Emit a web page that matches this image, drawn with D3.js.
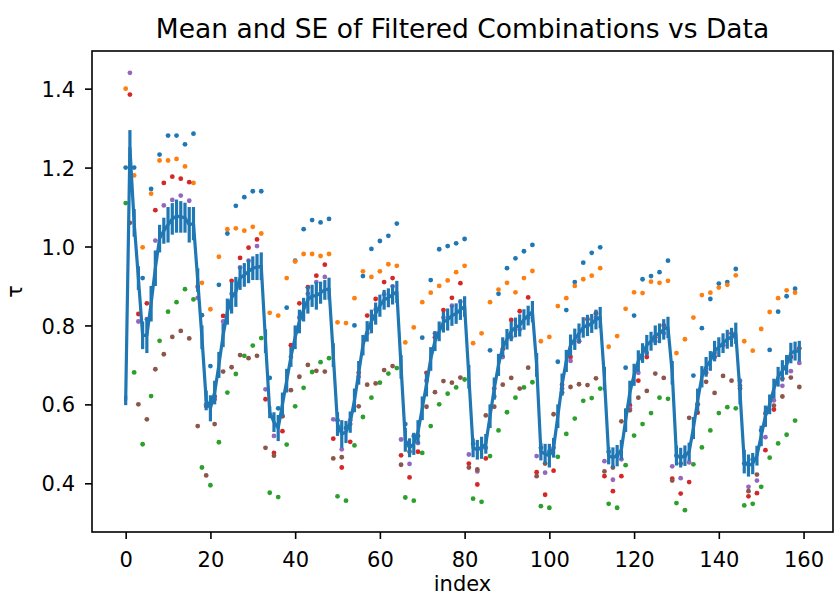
<!DOCTYPE html>
<html>
<head>
<meta charset="utf-8">
<script src="https://cdn.jsdelivr.net/npm/d3@7"></script>
<style>
  body { margin: 0; background: #fff; }
  svg { display: block; }
  text { font-family: "DejaVu Sans", sans-serif; fill: #000; }
</style>
</head>
<body>
<svg id="chart" width="835" height="597"></svg>
<script>
// Mean of the filtered combinations at every index 0..159
const meanTau = [
  0.61, 1.25, 1.06, 0.92, 0.775, 0.775, 0.855, 0.945, 1.02, 1.04, 1.055, 1.07, 1.077, 1.075, 1.073, 1.055,
  1.058, 0.915, 0.77, 0.61, 0.59, 0.63, 0.70, 0.775, 0.835, 0.87, 0.885, 0.92, 0.928, 0.937, 0.945, 0.948,
  0.95, 0.76, 0.58, 0.555, 0.54, 0.60, 0.66, 0.72, 0.77, 0.81, 0.84, 0.865, 0.875, 0.875, 0.883, 0.89,
  0.893, 0.725, 0.55, 0.525, 0.53, 0.555, 0.61, 0.68, 0.75, 0.785, 0.81, 0.83, 0.85, 0.865, 0.87, 0.878,
  0.885, 0.695, 0.51, 0.49, 0.50, 0.53, 0.59, 0.65, 0.715, 0.76, 0.785, 0.808, 0.815, 0.825, 0.83, 0.84,
  0.848, 0.67, 0.49, 0.485, 0.49, 0.50, 0.57, 0.64, 0.70, 0.745, 0.765, 0.785, 0.795, 0.80, 0.815, 0.825,
  0.835, 0.70, 0.48, 0.475, 0.47, 0.49, 0.57, 0.65, 0.71, 0.75, 0.765, 0.78, 0.795, 0.80, 0.805, 0.815,
  0.82, 0.665, 0.47, 0.465, 0.47, 0.485, 0.56, 0.63, 0.675, 0.71, 0.73, 0.75, 0.76, 0.775, 0.78, 0.79,
  0.795, 0.68, 0.47, 0.465, 0.47, 0.48, 0.54, 0.61, 0.67, 0.695, 0.71, 0.735, 0.745, 0.755, 0.765, 0.77,
  0.78, 0.63, 0.455, 0.445, 0.45, 0.47, 0.52, 0.57, 0.60, 0.64, 0.67, 0.685, 0.70, 0.73, 0.735, 0.735
];

// Standard error of the mean at every index
const seTau = [
  0.012, 0.045, 0.035, 0.030, 0.035, 0.045, 0.045, 0.045, 0.035, 0.033, 0.045, 0.040, 0.042, 0.040, 0.038, 0.045,
  0.042, 0.030, 0.030, 0.025, 0.033, 0.030, 0.033, 0.030, 0.033, 0.040, 0.038, 0.030, 0.030, 0.030, 0.030, 0.033,
  0.035, 0.030, 0.015, 0.025, 0.033, 0.030, 0.030, 0.025, 0.030, 0.030, 0.030, 0.035, 0.028, 0.035, 0.028, 0.025,
  0.028, 0.030, 0.030, 0.035, 0.028, 0.027, 0.030, 0.030, 0.026, 0.026, 0.030, 0.028, 0.028, 0.025, 0.024, 0.025,
  0.028, 0.030, 0.030, 0.024, 0.028, 0.030, 0.030, 0.030, 0.030, 0.025, 0.025, 0.026, 0.028, 0.026, 0.026, 0.026,
  0.026, 0.030, 0.024, 0.025, 0.028, 0.025, 0.030, 0.028, 0.028, 0.025, 0.026, 0.025, 0.025, 0.028, 0.026, 0.025,
  0.027, 0.030, 0.022, 0.025, 0.030, 0.025, 0.030, 0.028, 0.028, 0.027, 0.027, 0.025, 0.026, 0.027, 0.024, 0.025,
  0.027, 0.030, 0.022, 0.026, 0.027, 0.025, 0.030, 0.030, 0.028, 0.027, 0.025, 0.026, 0.024, 0.025, 0.025, 0.026,
  0.027, 0.030, 0.025, 0.025, 0.026, 0.023, 0.028, 0.030, 0.027, 0.025, 0.025, 0.026, 0.025, 0.025, 0.024, 0.024,
  0.027, 0.030, 0.030, 0.028, 0.027, 0.025, 0.026, 0.027, 0.025, 0.025, 0.025, 0.027, 0.025, 0.026, 0.024, 0.026
];

// Observed data, series A/B/C at even indices 0,2,...,158
const dataA = [
  1.20, 1.20, 0.92, 1.146, 1.233, 1.281, 1.281, 1.259,
  1.286, 0.826, 0.697, 0.903, 1.033, 1.103, 1.125, 1.14,
  1.14, 0.667, 0.59, 0.845, 0.964, 1.044, 1.067, 1.061,
  1.07, 0.56, 0.54, 0.80, 0.925, 0.994, 1.014, 1.027,
  1.058, 0.55, 0.52, 0.769, 0.915, 0.993, 1.001, 1.008,
  1.019, 0.50, 0.49, 0.737, 0.88, 0.945, 0.97, 0.988,
  1.004, 0.49, 0.48, 0.708, 0.839, 0.91, 0.959, 0.984,
  0.998, 0.48, 0.47, 0.693, 0.825, 0.917, 0.925, 0.935,
  0.964, 0.47, 0.47, 0.673, 0.793, 0.867, 0.906, 0.91,
  0.943, 0.45, 0.46, 0.534, 0.738, 0.835, 0.874, 0.893
];
const dataB = [
  1.40, 1.18, 0.998, 1.134, 1.218, 1.218, 1.222, 1.203,
  1.161, 0.908, 0.841, 0.974, 1.044, 1.046, 1.04, 1.05,
  1.033, 0.832, 0.825, 0.92, 0.962, 0.981, 0.981, 0.976,
  0.981, 0.808, 0.806, 0.869, 0.937, 0.923, 0.937, 0.955,
  0.951, 0.757, 0.795, 0.859, 0.883, 0.90, 0.914, 0.935,
  0.951, 0.755, 0.78, 0.859, 0.891, 0.908, 0.884, 0.92,
  0.938, 0.76, 0.771, 0.849, 0.869, 0.90, 0.917, 0.926,
  0.945, 0.746, 0.773, 0.842, 0.884, 0.882, 0.911, 0.908,
  0.913, 0.73, 0.765, 0.82, 0.877, 0.883, 0.896, 0.903,
  0.927, 0.76, 0.736, 0.791, 0.834, 0.869, 0.889, 0.883
];
const dataC = [
  1.11, 0.681, 0.499, 0.621, 0.761, 0.835, 0.859, 0.892,
  0.866, 0.44, 0.395, 0.504, 0.63, 0.677, 0.723, 0.749,
  0.768, 0.376, 0.365, 0.498, 0.595, 0.642, 0.682, 0.707,
  0.717, 0.367, 0.356, 0.496, 0.568, 0.617, 0.655, 0.678,
  0.692, 0.364, 0.356, 0.477, 0.545, 0.60, 0.627, 0.643,
  0.663, 0.361, 0.353, 0.469, 0.534, 0.58, 0.617, 0.643,
  0.656, 0.342, 0.338, 0.467, 0.525, 0.564, 0.609, 0.616,
  0.64, 0.348, 0.338, 0.446, 0.521, 0.55, 0.578, 0.617,
  0.614, 0.35, 0.332, 0.448, 0.491, 0.534, 0.578, 0.593,
  0.59, 0.344, 0.348, 0.391, 0.465, 0.501, 0.523, 0.559
];

// Observed data, series D/E/F at odd indices 1,3,...,159
const dataD = [
  1.385, 0.829, 0.856, 1.092, 1.161, 1.177, 1.172, 1.163,
  0.898, 0.596, 0.62, 0.824, 0.913, 0.971, 0.997, 1.018,
  0.613, 0.477, 0.532, 0.75, 0.856, 0.897, 0.926, 0.954,
  0.513, 0.44, 0.505, 0.68, 0.825, 0.867, 0.91, 0.92,
  0.471, 0.415, 0.48, 0.68, 0.77, 0.839, 0.87, 0.907,
  0.45, 0.397, 0.463, 0.64, 0.74, 0.814, 0.836, 0.871,
  0.428, 0.371, 0.432, 0.65, 0.72, 0.76, 0.816, 0.831,
  0.418, 0.38, 0.418, 0.598, 0.66, 0.72, 0.77, 0.80,
  0.412, 0.374, 0.403, 0.579, 0.68, 0.72, 0.75, 0.78,
  0.64, 0.367, 0.375, 0.484, 0.587, 0.665, 0.72, 0.742
];
const dataE = [
  1.44, 0.81, 0.816, 1.015, 1.104, 1.118, 1.129, 1.116,
  0.87, 0.60, 0.613, 0.81, 0.88, 0.947, 0.964, 1.001,
  0.638, 0.52, 0.57, 0.72, 0.82, 0.88, 0.91, 0.923,
  0.562, 0.486, 0.56, 0.67, 0.78, 0.84, 0.879, 0.899,
  0.511, 0.449, 0.502, 0.66, 0.78, 0.82, 0.85, 0.86,
  0.473, 0.43, 0.49, 0.62, 0.72, 0.77, 0.79, 0.82,
  0.469, 0.427, 0.49, 0.64, 0.71, 0.76, 0.80, 0.82,
  0.456, 0.409, 0.461, 0.59, 0.68, 0.73, 0.76, 0.78,
  0.443, 0.413, 0.453, 0.60, 0.69, 0.73, 0.75, 0.77,
  0.66, 0.391, 0.407, 0.517, 0.61, 0.647, 0.684, 0.705
];
const dataF = [
  1.06, 0.60, 0.562, 0.689, 0.727, 0.771, 0.786, 0.767,
  0.545, 0.42, 0.55, 0.683, 0.694, 0.725, 0.717, 0.723,
  0.49, 0.47, 0.57, 0.636, 0.67, 0.70, 0.685, 0.683,
  0.463, 0.466, 0.55, 0.595, 0.65, 0.653, 0.687, 0.697,
  0.447, 0.48, 0.52, 0.594, 0.631, 0.659, 0.655, 0.668,
  0.44, 0.435, 0.572, 0.594, 0.65, 0.667, 0.64, 0.693,
  0.418, 0.45, 0.575, 0.63, 0.644, 0.651, 0.649, 0.666,
  0.43, 0.44, 0.557, 0.585, 0.617, 0.634, 0.678, 0.667,
  0.407, 0.45, 0.566, 0.60, 0.657, 0.629, 0.672, 0.66,
  0.647, 0.38, 0.422, 0.577, 0.597, 0.62, 0.668, 0.644
];

const xTicks = [0, 20, 40, 60, 80, 100, 120, 140, 160];
const yTicks = [0.4, 0.6, 0.8, 1.0, 1.2, 1.4];

// Scatter groups: values plus the index they start at (every second index)
const scatterGroups = [
  { values: dataA, start: 0 },
  { values: dataB, start: 0 },
  { values: dataC, start: 0 },
  { values: dataD, start: 1 },
  { values: dataE, start: 1 },
  { values: dataF, start: 1 }
];
const palette = ["#1f77b4", "#ff7f0e", "#2ca02c", "#d62728", "#9467bd", "#8c564b"];
const lineColor = "#1f77b4";

const svg = d3.select("#chart");
const plot = { left: 92, right: 833, top: 51, bottom: 532 };

const points = scatterGroups.map((g, gi) =>
  g.values.map((v, k) => ({ i: g.start + 2 * k, v, c: palette[gi] }))
).flat();
const meanPts = meanTau.map((m, i) => ({ i, m, se: seTau[i] }));

// Autoscale with 5% margins, as the plotting library would
const xExt = [0, meanTau.length - 1];
const yAll = points.map(p => p.v)
  .concat(meanPts.map(p => p.m - p.se), meanPts.map(p => p.m + p.se));
const yExt = d3.extent(yAll);
const xPad = (xExt[1] - xExt[0]) * 0.05;
const yPad = (yExt[1] - yExt[0]) * 0.05;

const x = d3.scaleLinear().domain([xExt[0] - xPad, xExt[1] + xPad]).range([plot.left, plot.right]);
const y = d3.scaleLinear().domain([yExt[0] - yPad, yExt[1] + yPad]).range([plot.bottom, plot.top]);

// Clip marks to the axes box
svg.append("clipPath").attr("id", "plotClip")
  .append("rect")
  .attr("x", plot.left).attr("y", plot.top)
  .attr("width", plot.right - plot.left).attr("height", plot.bottom - plot.top);

const marks = svg.append("g").attr("clip-path", "url(#plotClip)");

// Data points
marks.append("g").selectAll("circle")
  .data(points)
  .join("circle")
  .attr("cx", d => x(d.i))
  .attr("cy", d => y(d.v))
  .attr("r", 2.4)
  .attr("fill", d => d.c);

// Error bars (mean ± SE)
marks.append("g").selectAll("line")
  .data(meanPts)
  .join("line")
  .attr("x1", d => x(d.i)).attr("x2", d => x(d.i))
  .attr("y1", d => y(d.m - d.se)).attr("y2", d => y(d.m + d.se))
  .attr("stroke", lineColor)
  .attr("stroke-width", 3.2);

// Mean line
marks.append("path")
  .datum(meanPts)
  .attr("fill", "none")
  .attr("stroke", lineColor)
  .attr("stroke-width", 3.2)
  .attr("stroke-linejoin", "round")
  .attr("d", d3.line().x(d => x(d.i)).y(d => y(d.m)));

// Axes
const xAxis = svg.append("g")
  .attr("transform", `translate(0,${plot.bottom})`)
  .call(d3.axisBottom(x).tickValues(xTicks).tickSize(7).tickPadding(13).tickFormat(d3.format("d")));
const yAxis = svg.append("g")
  .attr("transform", `translate(${plot.left},0)`)
  .call(d3.axisLeft(y).tickValues(yTicks).tickSize(7).tickPadding(10).tickFormat(d3.format(".1f")));

[xAxis, yAxis].forEach(a => {
  a.select(".domain").remove();
  a.selectAll(".tick line").attr("stroke", "#000").attr("stroke-width", 1.6);
  a.selectAll(".tick text")
    .attr("font-family", "DejaVu Sans, sans-serif")
    .attr("font-size", 21)
    .attr("fill", "#000");
});
yAxis.selectAll(".tick text").attr("dy", "0.36em");

// Axes frame
svg.append("rect")
  .attr("x", plot.left).attr("y", plot.top)
  .attr("width", plot.right - plot.left).attr("height", plot.bottom - plot.top)
  .attr("fill", "none").attr("stroke", "#000").attr("stroke-width", 1.6);

// Title and axis labels
svg.append("text")
  .attr("x", (plot.left + plot.right) / 2).attr("y", 38)
  .attr("text-anchor", "middle").attr("font-size", 26.5)
  .text("Mean and SE of Filtered Combinations vs Data");

svg.append("text")
  .attr("x", (plot.left + plot.right) / 2).attr("y", 591)
  .attr("text-anchor", "middle").attr("font-size", 21)
  .text("index");

svg.append("text")
  .attr("transform", `translate(22,${(plot.top + plot.bottom) / 2}) rotate(-90)`)
  .attr("text-anchor", "middle").attr("font-size", 21)
  .text("τ");
</script>
</body>
</html>
